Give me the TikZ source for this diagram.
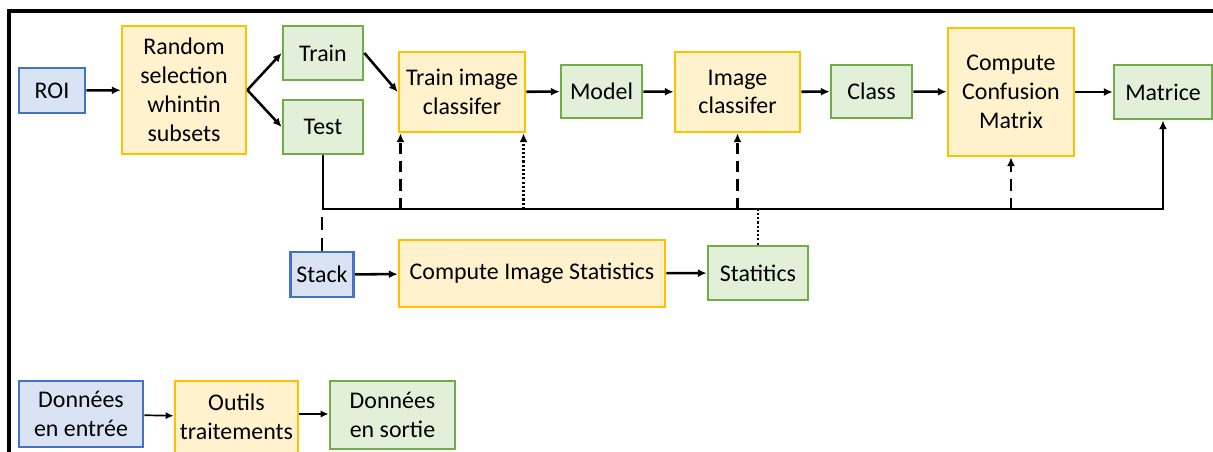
\documentclass[tikz,border=0pt]{standalone}
\usepackage{fontspec}
\setmainfont{Carlito}
\usetikzlibrary{arrows.meta}
\definecolor{inFill}{HTML}{DAE3F3}
\definecolor{inLine}{HTML}{4472C4}
\definecolor{toolFill}{HTML}{FFF2CC}
\definecolor{toolLine}{HTML}{FFC000}
\definecolor{outFill}{HTML}{E2F0D9}
\definecolor{outLine}{HTML}{70AD47}
\tikzset{
  box/.style={rectangle, line width=1.9pt, align=center, inner sep=0pt,
    font=\fontsize{17}{20.5}\selectfont},
  inbox/.style={box, draw=inLine, fill=inFill},
  toolbox/.style={box, draw=toolLine, fill=toolFill},
  outbox/.style={box, draw=outLine, fill=outFill},
  flow/.style={line width=1.8pt, -{Latex[length=2.2mm,width=2mm]}},
  dashflow/.style={flow, dash pattern=on 8pt off 5pt},
  dotflow/.style={flow, dash pattern=on 1.5pt off 1.5pt}
}
\begin{document}
\begin{tikzpicture}[x=0.025cm, y=-0.025cm]
  \useasboundingbox (0,0) rectangle (1213,452);

  % frame
  \draw[line width=2.2pt] (9,452) -- (9,11) -- (1213,11);

  % main chain
  \node[inbox, minimum width=66*0.025cm, minimum height=45*0.025cm] (roi) at (52,90.5) {ROI};
  \node[toolbox, minimum width=124*0.025cm, minimum height=128*0.025cm] (rand) at (184,90) {Random\\selection\\whintin\\subsets};
  \node[outbox, minimum width=80*0.025cm, minimum height=54*0.025cm] (train) at (323,53) {Train};
  \node[outbox, minimum width=80*0.025cm, minimum height=54*0.025cm] (test) at (323,127) {Test};
  \node[toolbox, minimum width=126*0.025cm, minimum height=80*0.025cm] (trainclf) at (462,92) {Train image\\classifer};
  \node[outbox, minimum width=81*0.025cm, minimum height=53*0.025cm] (model) at (601.5,91.5) {Model};
  \node[toolbox, minimum width=125*0.025cm, minimum height=80*0.025cm] (imgclf) at (737.5,92) {Image\\classifer};
  \node[outbox, minimum width=81*0.025cm, minimum height=53*0.025cm] (class) at (871.5,91.5) {Class};
  \node[toolbox, minimum width=126*0.025cm, minimum height=128*0.025cm] (confusion) at (1011,92) {Compute\\Confusion\\Matrix};
  \node[outbox, minimum width=98*0.025cm, minimum height=54*0.025cm] (matrice) at (1163,92) {Matrice};

  % statistics branch
  \node[inbox, minimum width=63*0.025cm, minimum height=45*0.025cm] (stack) at (322,274.5) {Stack};
  \node[toolbox, minimum width=266*0.025cm, minimum height=67*0.025cm] (stats) at (532,273.5) {Compute Image Statistics};
  \node[outbox, minimum width=100*0.025cm, minimum height=54*0.025cm] (statitics) at (758,273) {Statitics};

  % legend
  \node[inbox, minimum width=124*0.025cm, minimum height=66*0.025cm] (legin) at (81,414) {Données\\en entrée};
  \node[toolbox, minimum width=123*0.025cm, minimum height=72*0.025cm] (legtool) at (236.5,417) {Outils\\traitements};
  \node[outbox, minimum width=125*0.025cm, minimum height=68*0.025cm] (legout) at (392.5,415) {Données\\en sortie};

  \coordinate (bus) at (700,209);

  \draw[flow] (roi) -- (rand);
  \draw[flow] (rand.east) -- (train.west);
  \draw[flow] (rand.east) -- (test.west);
  \draw[flow] (train.east) -- (trainclf.west);
  \draw[flow] (trainclf) -- (model);
  \draw[flow] (model) -- (imgclf);
  \draw[flow] (imgclf) -- (class);
  \draw[flow] (class) -- (confusion);
  \draw[flow] (confusion) -- (matrice);
  \draw[flow] (test.south) |- (bus) -| (matrice.south);

  \draw[line width=1.8pt, dash pattern=on 9pt off 6pt] (stack.north) -- (stack.north |- bus);
  \draw[dashflow] ([xshift=2pt]trainclf.south west |- bus) -- ([xshift=2pt]trainclf.south west);
  \draw[dotflow] ([xshift=-2pt]trainclf.south east |- bus) -- ([xshift=-2pt]trainclf.south east);
  \draw[dashflow] (imgclf.south |- bus) -- (imgclf.south);
  \draw[dashflow] (confusion.south |- bus) -- (confusion.south);
  \draw[line width=1.4pt, dash pattern=on 1.5pt off 1.5pt] (statitics.north) -- (statitics.north |- bus);

  \draw[flow] (stack) -- (stats);
  \draw[flow] (stats) -- (statitics);

  \draw[line width=1.2pt, -{Latex[length=2mm,width=1.8mm]}] (legin) -- (legtool);
  \draw[line width=1.2pt, -{Latex[length=2mm,width=1.8mm]}] (legtool.east |- legin) -- (legout.west |- legin);
\end{tikzpicture}
\end{document}
